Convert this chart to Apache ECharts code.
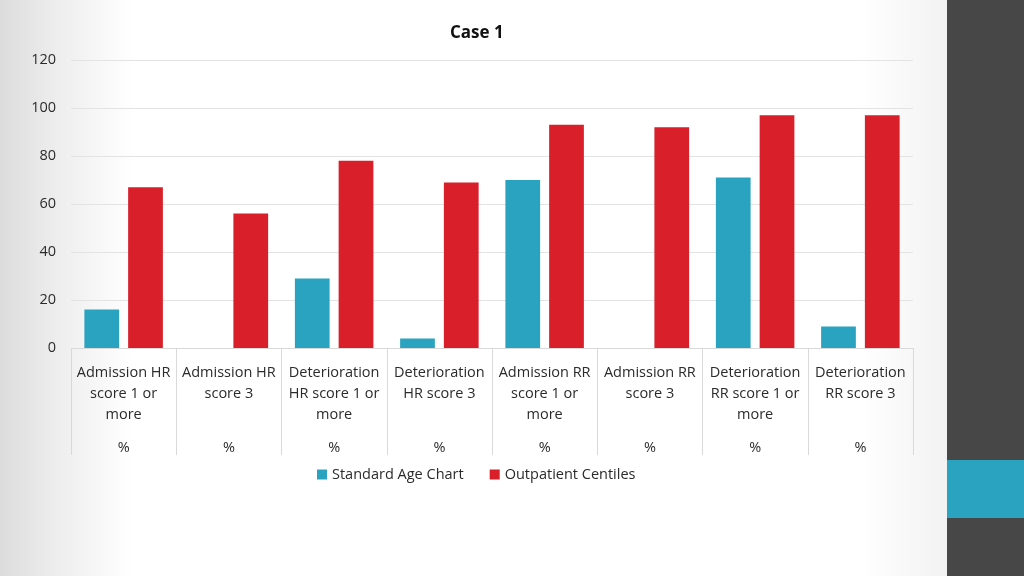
<!DOCTYPE html>
<html><head><meta charset="utf-8">
<script src="https://cdn.jsdelivr.net/npm/echarts@6/dist/echarts.min.js"></script>
<style>html,body{margin:0;padding:0;}#c{width:1024px;height:576px;}</style>
</head><body><div id="c"></div>
<script>
var categories = ['Admission HR\nscore 1 or\nmore','Admission HR\nscore 3','Deterioration\nHR score 1 or\nmore','Deterioration\nHR score 3','Admission RR\nscore 1 or\nmore','Admission RR\nscore 3','Deterioration\nRR score 1 or\nmore','Deterioration\nRR score 3'];
var subLabels = ['%','%','%','%','%','%','%','%'];
var standardAge = [16, 0, 29, 4, 70, 0, 71, 9];
var outpatient = [67, 56, 78, 69, 93, 92, 97, 97];
var yTicks = {min: 0, max: 120, interval: 20};
var seriesNames = ['Standard Age Chart', 'Outpatient Centiles'];

var chart = echarts.init(document.getElementById('c'));
var font = '"Open Sans", sans-serif';
chart.setOption({
  backgroundColor: {type:'linear', x:0, y:0, x2:1, y2:0, colorStops:[
    {offset:0,color:'#dcdcdc'},{offset:0.05,color:'#ececec'},{offset:0.13,color:'#ffffff'},
    {offset:0.84,color:'#ffffff'},{offset:0.925,color:'#f2f2f2'},{offset:1,color:'#f2f2f2'}]},
  animation: false,
  graphic: [
    {type:'rect', shape:{x:947,y:0,width:77,height:576}, style:{fill:'#474747'}},
    {type:'rect', shape:{x:947,y:460,width:77,height:58}, style:{fill:'#2aa3c0'}}
  ],
  title: {text:'Case 1', left:445, top:20, textStyle:{fontFamily:font, fontSize:17, fontWeight:'bold', color:'#111'}},
  legend: {data: seriesNames, bottom: 89, left: 312, itemWidth:10, itemHeight:10, itemGap:26, icon:'rect',
    textStyle:{fontFamily:font, fontSize:14.5, color:'#2b2b2b'}},
  grid: {left:71, right:111, top:60, bottom:228, containLabel:false},
  xAxis: [
    {type:'category', data: categories, position:'bottom',
     axisLine:{lineStyle:{color:'#d9d9d9'}},
     axisTick:{show:true, length:107, interval:0, lineStyle:{color:'#d9d9d9'}},
     axisLabel:{interval:0, margin:14, verticalAlign:'top', lineHeight:21, fontFamily:font, fontSize:14.5, color:'#2b2b2b'}},
    {type:'category', data: subLabels, position:'bottom', offset:92,
     axisLine:{show:false}, axisTick:{show:false},
     axisLabel:{interval:0, margin:0, verticalAlign:'top', fontFamily:font, fontSize:14.5, color:'#2b2b2b'}}
  ],
  yAxis: {type:'value', min:yTicks.min, max:yTicks.max, interval:yTicks.interval,
    axisLine:{show:false}, axisTick:{show:false},
    splitLine:{lineStyle:{color:'#e3e3e3'}},
    axisLabel:{margin:15, fontFamily:font, fontSize:14.5, color:'#2b2b2b'}},
  series: [
    {name: seriesNames[0], type:'bar', data: standardAge, barWidth:'33%', barGap:'26%', itemStyle:{color:'#2aa3c0'}},
    {name: seriesNames[1], type:'bar', data: outpatient, barWidth:'33%', barGap:'26%', itemStyle:{color:'#d91f2a'}}
  ]
});
</script></body></html>
